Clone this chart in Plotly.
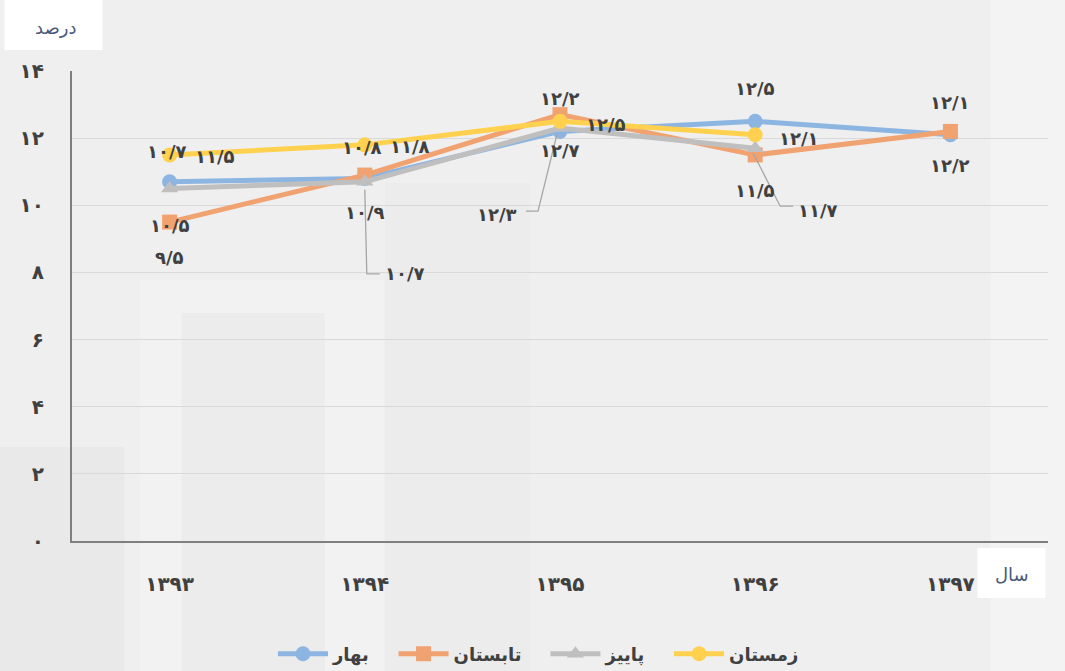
import plotly.graph_objects as go

years = ["۱۳۹۳", "۱۳۹۴", "۱۳۹۵", "۱۳۹۶", "۱۳۹۷"]
bahar = [10.7, 10.8, 12.2, 12.5, 12.1]
tabestan = [9.5, 10.9, 12.7, 11.5, 12.2]
paeez = [10.5, 10.7, 12.3, 11.7, None]
zemestan = [11.5, 11.8, 12.5, 12.1, None]
series_names = ["بهار", "تابستان", "پاییز", "زمستان"]
y_ticks = [0, 2, 4, 6, 8, 10, 12, 14]

FA = str.maketrans("0123456789.", "۰۱۲۳۴۵۶۷۸۹/")
def fa(v):
    return str(v).translate(FA)

colors = ["#8db5e2", "#f0a271", "#bfbfbf", "#ffd14f"]
symbols = ["circle", "square", "triangle-up", "circle"]
all_series = [bahar, tabestan, paeez, zemestan]

FONT = "DejaVu Sans"
TXT = "#404040"

fig = go.Figure()
for name, vals, col, sym in zip(series_names, all_series, colors, symbols):
    fig.add_trace(go.Scatter(
        x=years, y=vals, name=name + "   ", mode="lines+markers",
        line=dict(color=col, width=5),
        marker=dict(symbol=sym, size=15, color=col),
        cliponaxis=False,
    ))

# label offsets (pixels) per series: style only
label_style = {
    0: [(-3, 30), (-3, 31), (0, 33), (0, 33), (0, 32)],
    1: [(0, -35), (0, -37), (0, -36), (0, -36), (0, -34)],
    2: [(0, -37), (40, -92), (-63, -86), (63, -62), None],
    3: [(45, -2), (45, -2), (46, -3), (44, -4), None],
}
leaders = {
    (2, 1): "M 0,-8 L 2,-92 L 15,-92",
    (2, 2): "M -3,-6 L -22,-83 L -34,-83",
    (2, 3): "M -2,-5 L 25,-58 L 38,-58",
}

annotations = []
shapes = []
for si, vals in enumerate(all_series):
    for xi, v in enumerate(vals):
        if v is None:
            continue
        dx, dy = label_style[si][xi]
        annotations.append(dict(
            x=years[xi], y=v, xref="x", yref="y", text=fa(v), showarrow=False,
            xshift=dx, yshift=dy,
            font=dict(family=FONT, size=18, color=TXT, weight="bold"),
        ))
        if (si, xi) in leaders:
            shapes.append(dict(
                type="path", xref="x", yref="y",
                xsizemode="pixel", ysizemode="pixel",
                xanchor=years[xi], yanchor=v,
                path=leaders[(si, xi)],
                line=dict(color="#a6a6a6", width=1.3),
                layer="above",
            ))

# background decoration in paper coords (plot area 72.5..1047.5 x, 71..541 y)
def px(xp):
    return (xp - 72.5) / 975.0
def py(yp):
    return (541 - yp) / 470.0

bg_rects = [
    (0, 447, 125, 671, "#e9e9e9"),
    (140, 280, 385, 671, "#f2f2f2"),
    (182, 313, 325, 671, "#ececec"),
    (385, 183, 530, 671, "#ececec"),
    (990, 0, 1065, 671, "#f3f3f3"),
]
for x0, y0, x1, y1, c in bg_rects:
    shapes.append(dict(type="rect", xref="paper", yref="paper",
                       x0=px(x0), x1=px(x1), y0=py(y1), y1=py(y0),
                       fillcolor=c, line=dict(width=0), layer="below"))
# white label boxes
shapes.append(dict(type="rect", xref="paper", yref="paper",
                   x0=px(5), x1=px(103), y0=py(50), y1=py(0),
                   fillcolor="#ffffff", line=dict(width=0), layer="below"))
shapes.append(dict(type="rect", xref="paper", yref="paper",
                   x0=px(977), x1=px(1045), y0=py(598), y1=py(548),
                   fillcolor="#ffffff", line=dict(width=0), layer="below"))

annotations.append(dict(xref="paper", yref="paper", x=px(56), y=py(27),
                        xanchor="center", yanchor="middle",
                        text="درصد", showarrow=False,
                        font=dict(family=FONT, size=18, color="#4a5a78")))
annotations.append(dict(xref="paper", yref="paper", x=px(1012), y=py(574),
                        xanchor="center", yanchor="middle",
                        text="سال", showarrow=False,
                        font=dict(family=FONT, size=18, color="#4a5a78")))

fig.update_layout(
    width=1065, height=671,
    margin=dict(l=72, r=17, t=71, b=130, autoexpand=False),
    paper_bgcolor="#efefef", plot_bgcolor="rgba(0,0,0,0)",
    font=dict(family=FONT, color=TXT),
    showlegend=True,
    legend=dict(orientation="h", x=px(548), xanchor="center", y=py(654), yanchor="middle",
                font=dict(family=FONT, size=18, color=TXT, weight="bold"),
                bgcolor="rgba(0,0,0,0)", itemwidth=50),
    annotations=annotations,
    shapes=shapes,
    xaxis=dict(type="category", range=[-0.5, 4.5], showgrid=False,
               showline=True, linecolor="#7f7f7f", linewidth=2,
               ticks="", ticklabelstandoff=24,
               tickfont=dict(family=FONT, size=20, color=TXT, weight="bold")),
    yaxis=dict(range=[0, 14], tickvals=y_ticks, ticktext=[fa(t) for t in y_ticks],
               showgrid=True, gridcolor="#d9d9d9", gridwidth=1,
               showline=True, linecolor="#7f7f7f", linewidth=2,
               zeroline=False, ticks="", ticklabelstandoff=22,
               tickfont=dict(family=FONT, size=20, color=TXT, weight="bold")),
)

fig.write_html("out.html", config={"displayModeBar": False},
               post_script="document.body.style.margin='0';")
